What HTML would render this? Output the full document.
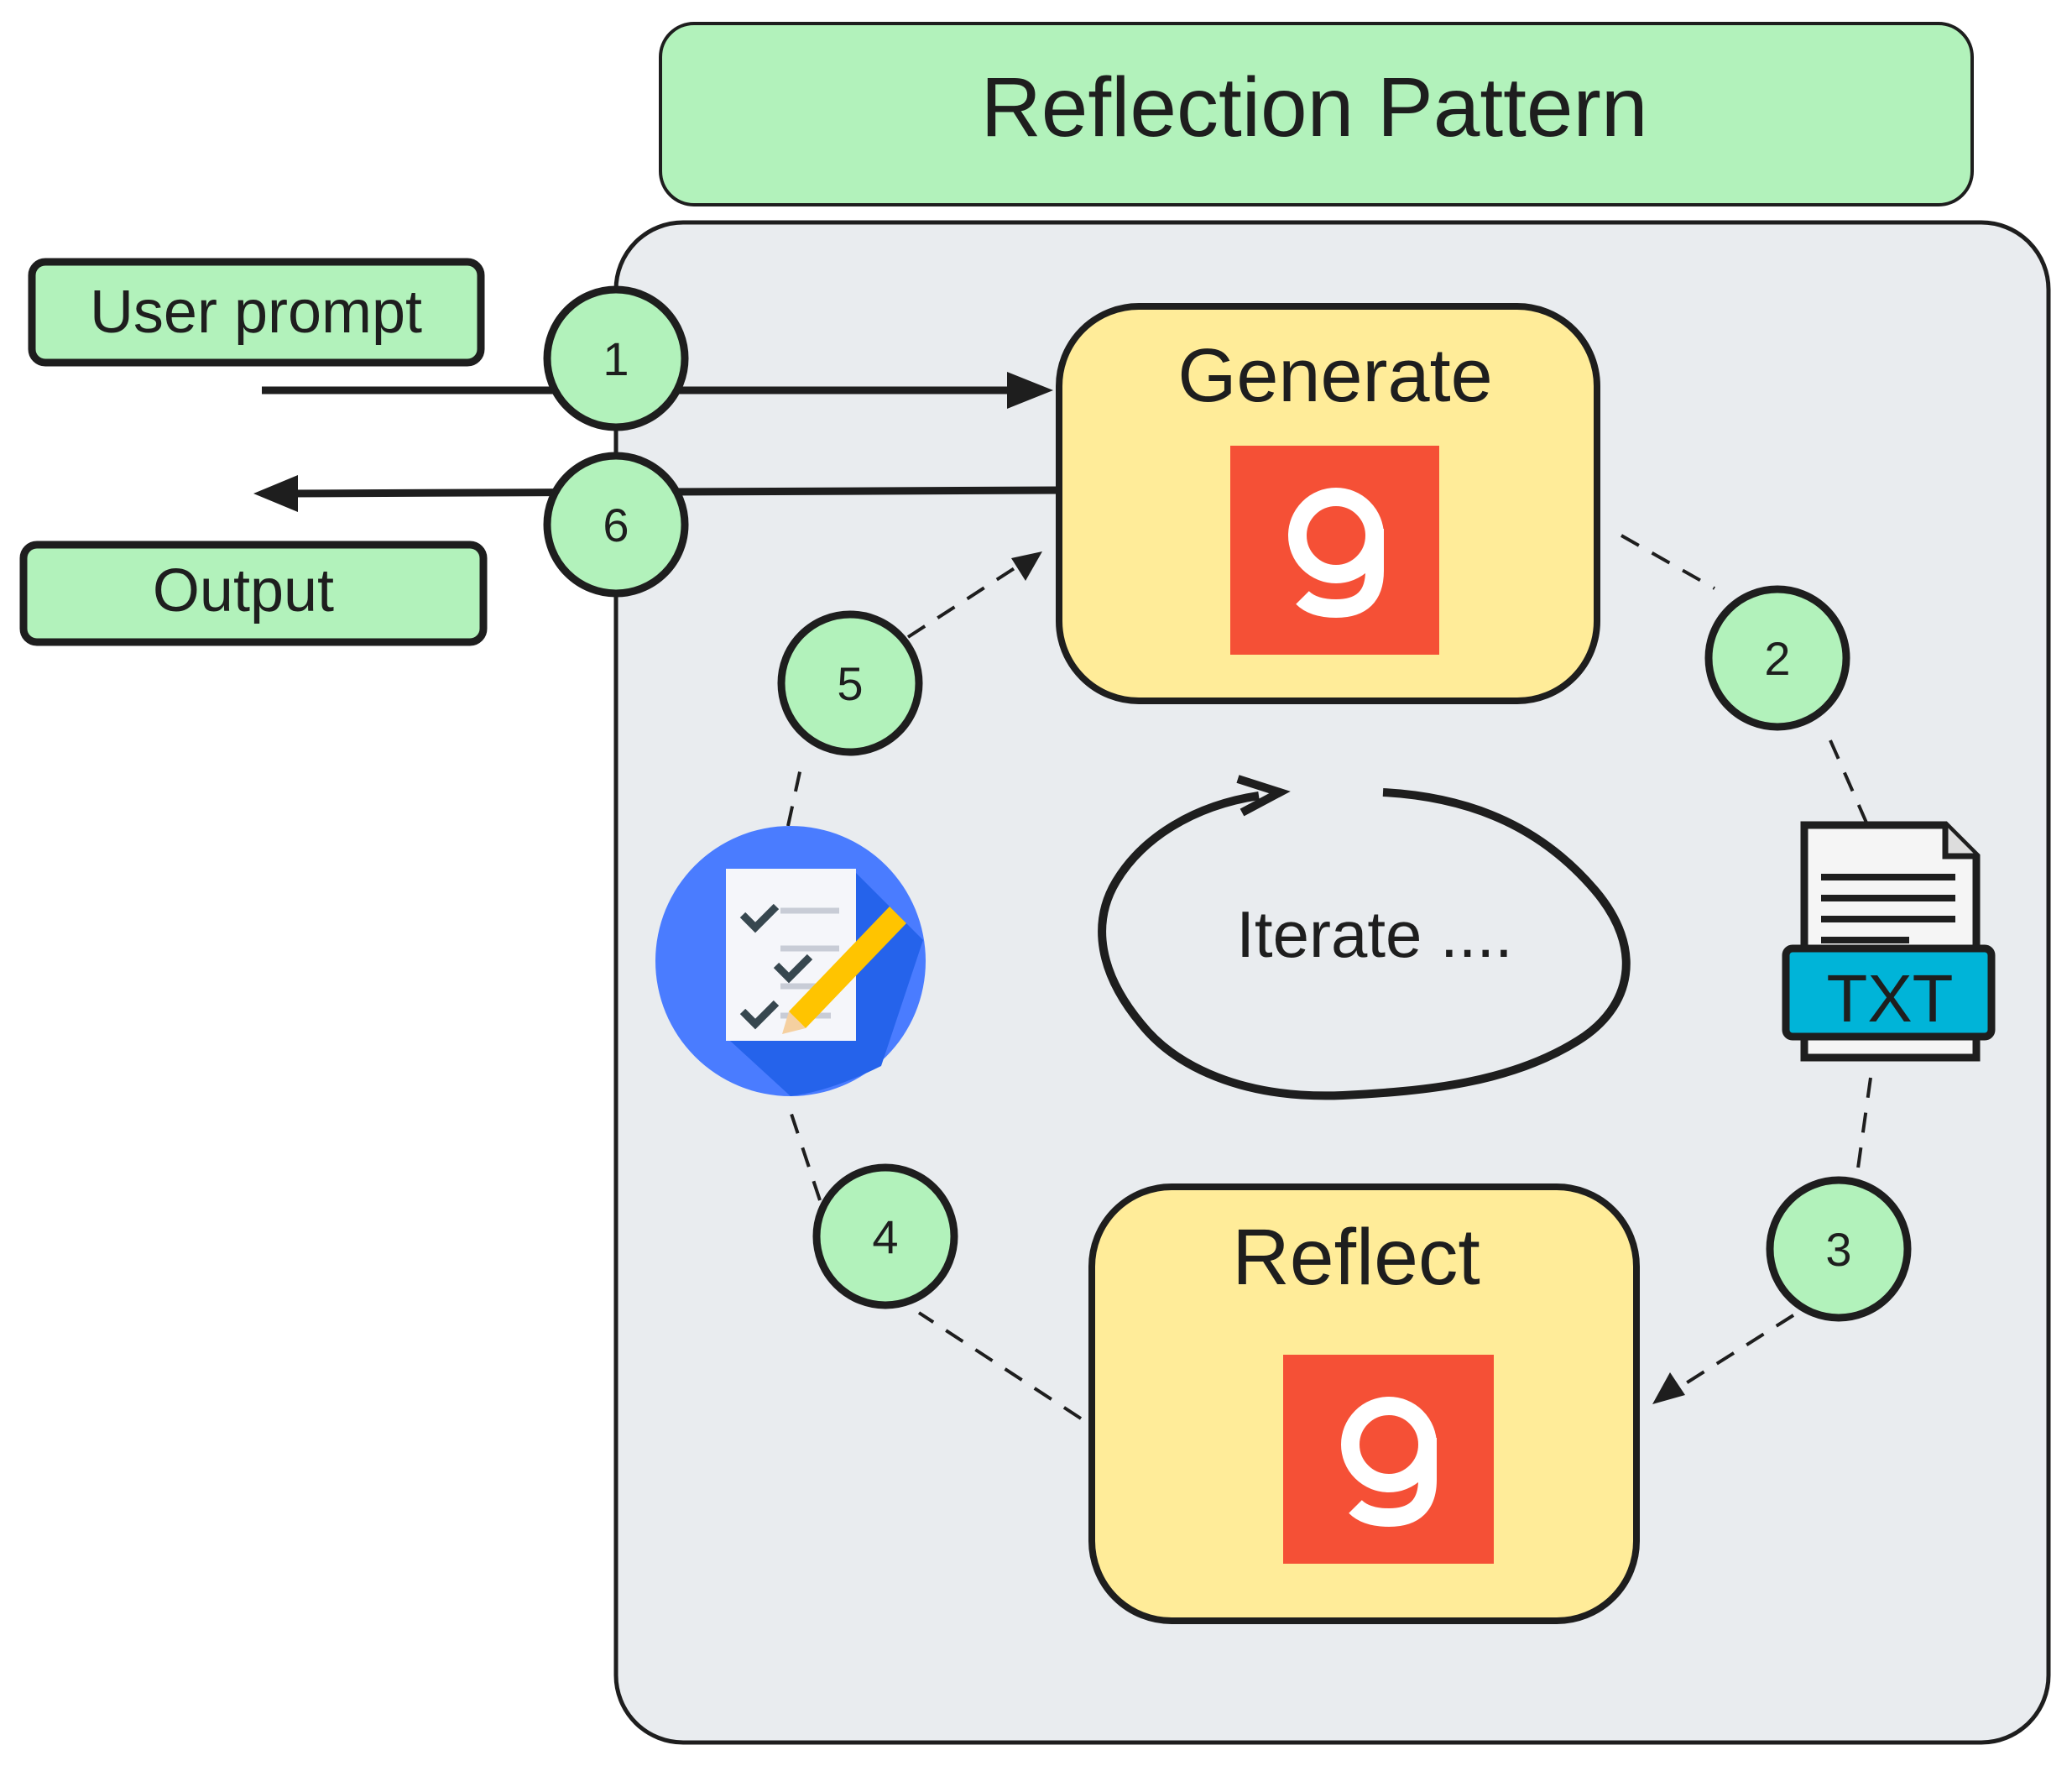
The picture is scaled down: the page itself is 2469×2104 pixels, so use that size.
<!DOCTYPE html>
<html><head><meta charset="utf-8"><style>
html,body{margin:0;padding:0;background:#fff;}
svg{display:block;}
</style></head><body>
<svg width="2469" height="2104" viewBox="0 0 2469 2104" xmlns="http://www.w3.org/2000/svg" font-family="'Liberation Sans', sans-serif">
<!-- Title -->
<rect x="787" y="28" width="1563" height="216" rx="40" fill="#b2f2bb" stroke="#1e1e1e" stroke-width="4"/>
<text x="1566" y="162" font-size="100" text-anchor="middle" fill="#1e1e1e">Reflection Pattern</text>
<!-- Container -->
<rect x="734" y="265" width="1707" height="1811" rx="80" fill="#e9ecef" stroke="#1e1e1e" stroke-width="5"/>
<!-- User prompt / Output -->
<rect x="38" y="312" width="535" height="120" rx="16" fill="#b2f2bb" stroke="#1e1e1e" stroke-width="9"/>
<text x="305" y="396" font-size="72" text-anchor="middle" fill="#1e1e1e">User prompt</text>
<rect x="28" y="649" width="548" height="116" rx="16" fill="#b2f2bb" stroke="#1e1e1e" stroke-width="9"/>
<text x="290" y="728" font-size="72" text-anchor="middle" fill="#1e1e1e">Output</text>
<!-- arrows 1 and 6 -->
<line x1="312" y1="465" x2="1215" y2="465" stroke="#1e1e1e" stroke-width="9"/>
<polygon points="1255,465 1200,443 1200,487" fill="#1e1e1e"/>
<line x1="1262" y1="584" x2="340" y2="588" stroke="#1e1e1e" stroke-width="9"/>
<polygon points="302,588 355,566 355,610" fill="#1e1e1e"/>
<!-- Generate -->
<rect x="1262" y="365" width="641" height="470" rx="95" fill="#ffec99" stroke="#1e1e1e" stroke-width="8"/>
<text x="1591" y="478" font-size="90" text-anchor="middle" fill="#1e1e1e">Generate</text>
<rect x="1466" y="531" width="249" height="249" fill="#f55036"/>
<circle cx="1592" cy="638" r="46" fill="none" stroke="#fff" stroke-width="22"/>
<path d="M1638 630 L1638 680 Q1638 725 1592 725 Q1565 725 1552 712" fill="none" stroke="#fff" stroke-width="22"/>
<!-- Reflect -->
<rect x="1301" y="1414" width="649" height="517" rx="95" fill="#ffec99" stroke="#1e1e1e" stroke-width="8"/>
<text x="1616" y="1530" font-size="95" text-anchor="middle" fill="#1e1e1e">Reflect</text>
<rect x="1529" y="1614" width="251" height="249" fill="#f55036"/>
<circle cx="1655" cy="1721" r="46" fill="none" stroke="#fff" stroke-width="22"/>
<path d="M1701 1713 L1701 1763 Q1701 1808 1655 1808 Q1628 1808 1615 1795" fill="none" stroke="#fff" stroke-width="22"/>
<!-- dashed connectors -->
<g stroke="#1e1e1e" stroke-width="4" stroke-dasharray="24 18" fill="none">
<line x1="1932" y1="638" x2="2043" y2="701"/>
<line x1="2181" y1="882" x2="2224" y2="980"/>
<line x1="2229" y1="1284" x2="2213" y2="1399"/>
<line x1="2137" y1="1567" x2="1990" y2="1660"/>
<line x1="1288" y1="1690" x2="1095" y2="1564"/>
<line x1="977" y1="1430" x2="939" y2="1315"/>
<line x1="939" y1="984" x2="956" y2="906"/>
<line x1="1082" y1="759" x2="1215" y2="673"/>
</g>
<polygon points="1969,1673 1990,1635 2008,1662" fill="#1e1e1e"/>
<polygon points="1242,657 1205,665 1222,692" fill="#1e1e1e"/>
<!-- numbered circles -->
<g stroke="#1e1e1e" stroke-width="9" fill="#b2f2bb">
<circle cx="734" cy="427" r="82"/>
<circle cx="734" cy="625" r="82"/>
<circle cx="2118" cy="784" r="82"/>
<circle cx="2191" cy="1488" r="82"/>
<circle cx="1055" cy="1473" r="82"/>
<circle cx="1013" cy="814" r="82"/>
</g>
<g font-size="56" text-anchor="middle" fill="#1e1e1e">
<text x="734" y="447">1</text>
<text x="734" y="645">6</text>
<text x="2118" y="804">2</text>
<text x="2191" y="1508">3</text>
<text x="1055" y="1493">4</text>
<text x="1013" y="834">5</text>
</g>
<!-- TXT icon -->
<path d="M2150 983 L2318 983 L2355 1020 L2355 1260 L2150 1260 Z" fill="#f5f5f5" stroke="#1e1e1e" stroke-width="9"/>
<path d="M2318 983 L2318 1020 L2355 1020" fill="#ddd" stroke="#1e1e1e" stroke-width="7"/>
<g stroke="#1e1e1e" stroke-width="8"><line x1="2170" y1="1045" x2="2330" y2="1045"/><line x1="2170" y1="1070" x2="2330" y2="1070"/><line x1="2170" y1="1095" x2="2330" y2="1095"/><line x1="2170" y1="1120" x2="2275" y2="1120"/></g>
<rect x="2128" y="1130" width="245" height="105" rx="8" fill="#00b4d8" stroke="#1e1e1e" stroke-width="9"/>
<text x="2252" y="1217" font-size="80" text-anchor="middle" fill="#1e1e1e">TXT</text>
<!-- checklist icon -->
<circle cx="942" cy="1145" r="161" fill="#4a7cff"/>
<path d="M1020 1040 L1100 1120 L1050 1270 Q990 1300 942 1306 L870 1240 Z" fill="#2563eb"/>
<rect x="865" y="1035" width="155" height="205" fill="#f5f6fa"/>
<g stroke="#c8ccd6" stroke-width="7"><line x1="930" y1="1085" x2="1000" y2="1085"/><line x1="930" y1="1130" x2="1000" y2="1130"/><line x1="930" y1="1175" x2="990" y2="1175"/><line x1="930" y1="1210" x2="990" y2="1210"/></g>
<g stroke="#37474f" stroke-width="9" fill="none"><polyline points="885,1090 900,1105 925,1080"/><polyline points="925,1150 940,1165 965,1140"/><polyline points="885,1205 900,1220 925,1195"/></g>
<path d="M1060 1080 L1080 1100 L960 1225 L940 1205 Z" fill="#ffc400"/>
<polygon points="940,1205 960,1225 932,1232" fill="#f5d0a0"/>
<!-- iterate loop -->
<path d="M1648 944 C1760 950 1840 990 1900 1060 C1960 1130 1945 1200 1880 1240 C1800 1290 1700 1300 1600 1305 C1480 1310 1400 1270 1360 1220 C1310 1160 1300 1100 1330 1050 C1360 1000 1420 960 1500 948" fill="none" stroke="#1e1e1e" stroke-width="10"/>
<polyline points="1475,928 1525,944 1480,968" fill="none" stroke="#1e1e1e" stroke-width="10"/>
<text x="1638" y="1140" font-size="78" text-anchor="middle" fill="#1e1e1e">Iterate ....</text>
</svg>
</body></html>
